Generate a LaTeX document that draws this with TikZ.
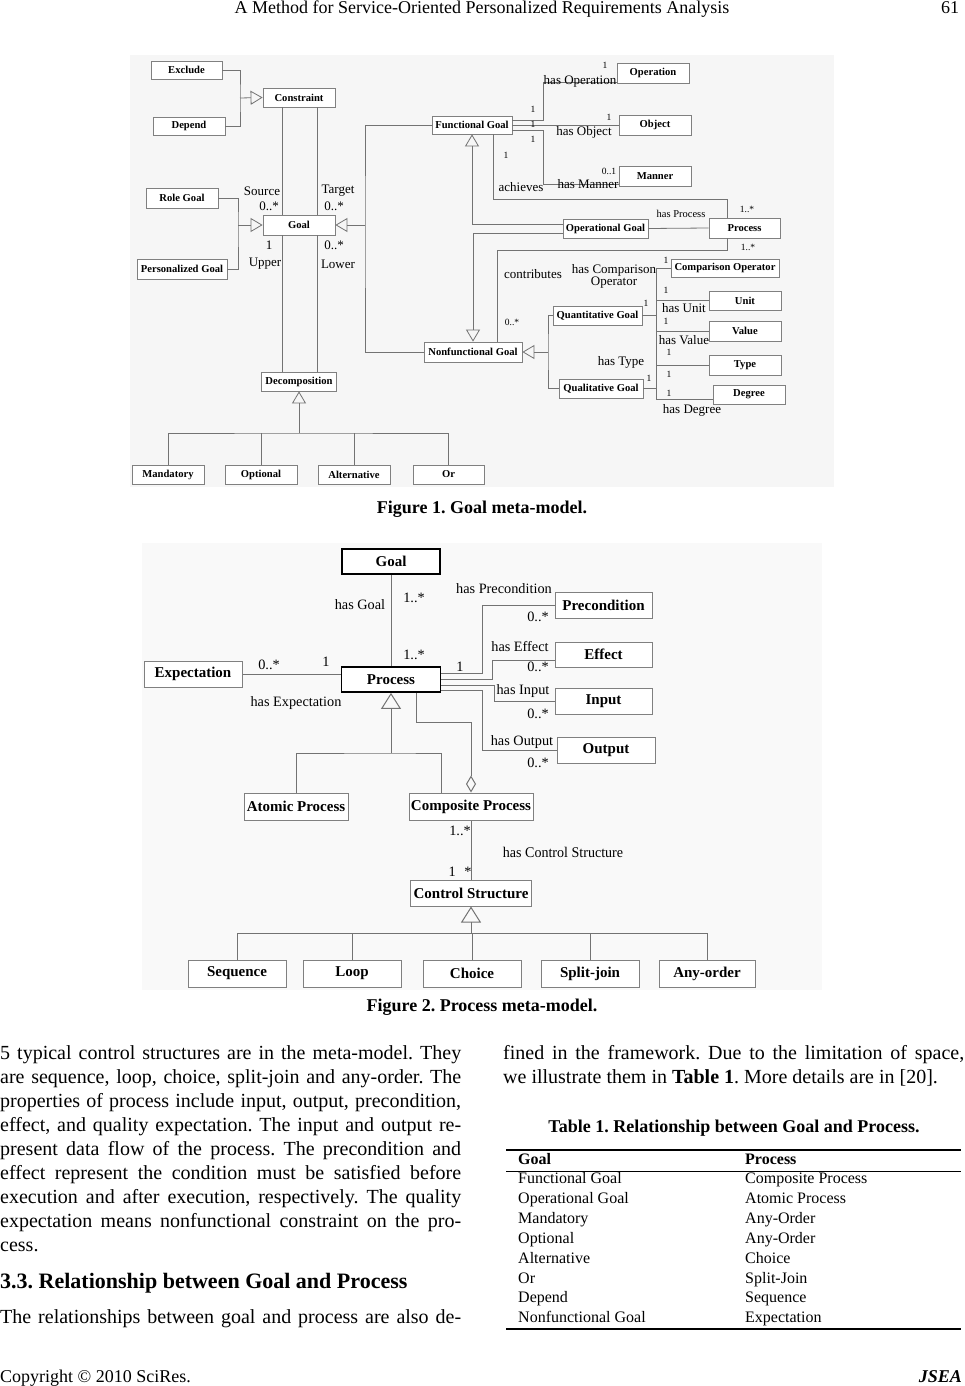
\documentclass[tikz,border=0pt]{standalone}
\usepackage{fontspec}
\usepackage{graphicx}
\setmainfont{Liberation Serif}
\usetikzlibrary{arrows.meta,calc}
\definecolor{lnc}{gray}{0.45}
\definecolor{bxc}{gray}{0.5}
\definecolor{bgA}{gray}{0.965}
\definecolor{bgB}{gray}{0.975}
\newcommand\fbx{\fontsize{10.6}{12}\selectfont\bfseries}
\newcommand\flb{\fontsize{13}{14}\selectfont}
\newcommand\fsm{\fontsize{9.5}{10}\selectfont}
\newcommand\fbxb{\fontsize{15}{17}\selectfont\bfseries}
\newcommand\flbb{\fontsize{14.3}{15}\selectfont}
\newcommand\fbody{\fontsize{20}{24}\selectfont}
\newcommand\ftab{\fontsize{16}{18}\selectfont}
\frenchspacing
\begin{document}
\frenchspacing
\begin{tikzpicture}[x=1pt,y=-1pt,
  bA/.style={draw=bxc, fill=white, font=\fbx, inner sep=0pt, line width=0.8pt},
  bB/.style={draw=bxc, fill=white, font=\fbxb, inner sep=0pt, line width=1pt},
  bT/.style={bB, draw=black, line width=1.8pt},
  ln/.style={draw=lnc, line width=0.8pt},
  gen/.style={ln, -{Triangle[open, length=12pt, width=14pt]}},
  genB/.style={ln, line width=1pt, -{Triangle[open, length=16pt, width=20pt]}},
  agg/.style={ln, line width=1pt, -{Diamond[open, length=17pt, width=10pt]}},
  lb/.style={font=\flb, inner sep=0pt},
  sm/.style={font=\fsm, inner sep=0pt},
  lbB/.style={font=\flbb, inner sep=0pt},
  txt/.style={font=\fbody, inner sep=0pt, anchor=base west}
]
\useasboundingbox (0,0) rectangle (964,1386);
\fill[white] (0,0) rectangle (964,1386);

% header / footer
\node[anchor=base, inner sep=0pt] (hdr) at (482,14) {\fontsize{18}{19}\selectfont A Method for Service-Oriented Personalized Requirements Analysis};
\node[anchor=base, inner sep=0pt] (pg) at (950,14) {\fontsize{18}{19}\selectfont 61};
\node[anchor=base west, inner sep=0pt] (copy) at (0,1382) {\fontsize{18}{19}\selectfont Copyright © 2010 SciRes.};
\node[anchor=base east, inner sep=0pt] (jsea) at (962,1382) {\fontsize{18}{19}\selectfont\bfseries\itshape JSEA};

%================ FIGURE 1 ================
\fill[bgA] (130,55) rectangle (834,487);
\node[bA, minimum width=71pt, minimum height=18pt] (exclude) at (186.5,70) {Exclude};
\node[bA, minimum width=72pt, minimum height=18pt] (depend) at (189,126) {Depend};
\node[bA, minimum width=72pt, minimum height=19pt] (constraint) at (299,97.5) {Constraint};
\node[bA, minimum width=72pt, minimum height=20pt] (rolegoal) at (182,198) {Role Goal};
\node[bA, minimum width=90pt, minimum height=20pt] (persgoal) at (182,269) {Personalized Goal};
\node[bA, minimum width=72pt, minimum height=20pt] (goal) at (299,225) {Goal};
\node[bA, minimum width=75pt, minimum height=19pt] (decomp) at (299,381.5) {Decomposition};
\node[bA, minimum width=72pt, minimum height=19pt] (mandatory) at (168,474.5) {Mandatory};
\node[bA, minimum width=72pt, minimum height=19pt] (optional) at (261,474.5) {Optional};
\node[bA, minimum width=72pt, minimum height=19pt] (alternative) at (354,474.5) {Alternative};
\node[bA, minimum width=71pt, minimum height=19pt] (orb) at (448.5,474.5) {Or};
\node[bA, minimum width=80pt, minimum height=18pt] (fgoal) at (472,125) {Functional Goal};
\node[bA, minimum width=72pt, minimum height=20pt] (operation) at (653,73) {Operation};
\node[bA, minimum width=72pt, minimum height=20pt] (object) at (655,125) {Object};
\node[bA, minimum width=72pt, minimum height=20pt] (manner) at (655,176) {Manner};
\node[bA, minimum width=85pt, minimum height=19pt] (opgoal) at (605.5,228.5) {Operational Goal};
\node[bA, minimum width=71pt, minimum height=20pt] (process1) at (744.5,228) {Process};
\node[bA, minimum width=108pt, minimum height=18pt] (compop) at (725,268) {Comparison Operator};
\node[bA, minimum width=72pt, minimum height=19pt] (unit) at (745,300.5) {Unit};
\node[bA, minimum width=72pt, minimum height=20pt] (value) at (745,331) {Value};
\node[bA, minimum width=72pt, minimum height=20pt] (type) at (745,365) {Type};
\node[bA, minimum width=72pt, minimum height=19pt] (degree) at (749,394.5) {Degree};
\node[bA, minimum width=89pt, minimum height=19pt] (quantgoal) at (597.5,315.5) {Quantitative Goal};
\node[bA, minimum width=84pt, minimum height=19pt] (qualgoal) at (601,388.5) {Qualitative Goal};
\node[bA, minimum width=98pt, minimum height=20pt] (nfgoal) at (473,352) {Nonfunctional Goal};

\coordinate (j1) at (240,98);
\draw[ln] (exclude.east) -| (j1) |- (depend.east);
\draw[gen] (j1) -- (constraint.west);
\draw[ln] ([xshift=-17pt]constraint.south) -- ([xshift=-17pt]goal.north);
\draw[ln] ([xshift=18pt]constraint.south) -- ([xshift=18pt]goal.north);
\draw[ln] ([xshift=-17pt]goal.south) -- ([xshift=-17pt]decomp.north);
\draw[ln] ([xshift=18pt]goal.south) -- ([xshift=18pt]decomp.north);
\coordinate (j2) at (238,225);
\draw[ln] (rolegoal.east) -| (j2) |- (persgoal.east);
\draw[gen] (j2) -- (goal.west);
\coordinate (j3) at (365,225);
\draw[ln] (fgoal.west) -| (j3) |- (nfgoal.west);
\draw[gen] (j3) -- (goal.east);
\coordinate (dj) at (299,433);
\draw[gen] (dj) -- (decomp.south);
\draw[ln] (mandatory.north) |- (dj) -| (orb.north);
\draw[ln] (optional.north) -- (optional.north |- dj);
\draw[ln] (alternative.north) -- (alternative.north |- dj);

\node[lb] (lsrc) at (262,191) {Source};
\node[lb] (lsrcm) at (269,206) {0..*};
\node[lb] (ltgt) at (338,191) {Target};
\node[lb] (ltgtm) at (334,206) {0..*};
\node[lb] (lupm) at (269,245) {1};
\node[lb] (lup) at (265,264) {Upper};
\node[lb] (llowm) at (334,245) {0..*};
\node[lb] (llow) at (338,264) {Lower};

% functional goal links
\draw[ln] ([yshift=5pt]fgoal.east) -- ++(31,0) |- ([yshift=-9pt]operation.west);
\draw[ln] (fgoal.east) -- (object.west);
\draw[ln] ([yshift=-5pt]fgoal.east) -- ++(31,0) |- ([yshift=-8pt]manner.west);
\node[lb] (lop) at (580,81) {has Operation};
\node[sm] (m1) at (605,65) {1};
\node[sm] (m2) at (533,109) {1};
\node[sm] (m3) at (533,124) {1};
\node[sm] (m4) at (533,139) {1};
\node[sm] (m5) at (506,155) {1};
\node[sm] (m6) at (609,117) {1};
\node[lb] (lobj) at (584,132) {has Object};
\node[sm] (m7) at (609,171) {0..1};
\node[lb] (lman) at (588,184) {has Manner};
\coordinate (a1) at (727,199);
\draw[ln] ([xshift=21pt]fgoal.south) |- (a1) -- (a1 |- process1.north);
\node[lb] (lach) at (521,187) {achieves};
\node[sm] (m8) at (747,209) {1..*};
\draw[gen] ([yshift=4.5pt]opgoal.west) -| (fgoal.south);
\draw[ln] (opgoal.east) -- (process1.west);
\node[font=\fontsize{10.5}{11}\selectfont, inner sep=0pt] (lhp) at (681,214) {has Process};
\draw[gen] ([yshift=-5pt]opgoal.west) -| (nfgoal.north);
\coordinate (c1) at (727,250);
\draw[ln] (process1.south -| c1) -- (c1) -| ([xshift=24pt]nfgoal.north);
\node[sm] (m9) at (748,247) {1..*};
\node[lb] (lcon) at (533,274) {contributes};
\node[sm] (m10) at (512,322) {0..*};

\coordinate (q1) at (548,352);
\draw[gen] (q1) -- (nfgoal.east);
\draw[ln] (quantgoal.west) -| (q1) |- (qualgoal.west);
\coordinate (v1) at (656,268);
\coordinate (v2) at (656,399);
\draw[ln] (compop.west) -- (compop.west -| v1) -- (v2) -- (v2 -| degree.west);
\draw[ln] (quantgoal.east) -- (quantgoal.east -| v1);
\draw[ln] (qualgoal.east) -- (qualgoal.east -| v1);
\draw[ln] (unit.west) -- (unit.west -| v1);
\draw[ln] (value.west) -- (value.west -| v1);
\draw[ln] (type.west) -- (type.west -| v1);
\node[lb, align=center] (lcmp) at (614,276) {has Comparison\\[-2pt]Operator};
\node[sm] (m11) at (666,260) {1};
\node[sm] (m12) at (666,290) {1};
\node[lb] (lunit) at (684,308) {has Unit};
\node[sm] (m13) at (666,321) {1};
\node[lb] (lval) at (684,340) {has Value};
\node[sm] (m14) at (669,352) {1};
\node[lb] (ltype) at (621,362) {has Type};
\node[sm] (m15) at (669,374) {1};
\node[sm] (m16) at (669,393) {1};
\node[lb] (ldeg) at (692,410) {has Degree};
\node[sm] (m17) at (646,303) {1};
\node[sm] (m18) at (649,378) {1};

\node[inner sep=0pt, font=\fontsize{18}{20}\selectfont\bfseries] (cap1) at (482,509) {Figure 1. Goal meta-model.};

%================ FIGURE 2 ================
\fill[bgB] (142,543) rectangle (822,990);
\node[bT, minimum width=98pt, minimum height=25pt] (goal2) at (391,561.5) {Goal};
\node[bT, minimum width=99pt, minimum height=25pt] (process2) at (391,679.5) {Process};
\node[bB, minimum width=98pt, minimum height=26pt] (expect) at (193,674) {Expectation};
\node[bB, minimum width=97pt, minimum height=26pt] (precond) at (603.5,605) {Precondition};
\node[bB, minimum width=97pt, minimum height=25pt] (effect) at (603.5,654.5) {Effect};
\node[bB, minimum width=97pt, minimum height=26pt] (input) at (603.5,701) {Input};
\node[bB, minimum width=98pt, minimum height=26pt] (output) at (606,750) {Output};
\node[bB, minimum width=104pt, minimum height=27pt] (atomic) at (296,806.5) {Atomic Process};
\node[bB, minimum width=124pt, minimum height=27pt] (composite) at (471,806.5) {Composite Process};
\node[bB, minimum width=121pt, minimum height=26pt] (control) at (471,893) {Control Structure};
\node[bB, minimum width=98pt, minimum height=27pt] (seq) at (237,973.5) {Sequence};
\node[bB, minimum width=98pt, minimum height=27pt] (loop) at (352,973.5) {Loop};
\node[bB, minimum width=98pt, minimum height=27pt] (choice) at (472,973.5) {Choice};
\node[bB, minimum width=98pt, minimum height=27pt] (split) at (590,973.5) {Split-join};
\node[bB, minimum width=96pt, minimum height=27pt] (any) at (707,973.5) {Any-order};

\draw[ln, line width=1pt] (goal2.south) -- (process2.north);
\draw[ln, line width=1pt] (expect.east) -- (expect.east -| process2.west);
\draw[ln, line width=1pt] ([yshift=6.5pt]process2.east) -| ([xshift=-72pt]precond.west) -- (precond.west);
\draw[ln, line width=1pt] (process2.east) -| ([xshift=-62pt,yshift=-5.5pt]effect.west) -- ([yshift=-5.5pt]effect.west);
\draw[ln, line width=1pt] ([yshift=-6pt]process2.east) -| ([xshift=-60pt]input.west) -- (input.west);
\draw[ln, line width=1pt] ([yshift=-11pt]process2.east) -| ([xshift=-74pt]output.west) -- (output.west);
\coordinate (g2) at (391,753);
\draw[genB] (g2) -- (process2.south);
\draw[ln, line width=1pt] (atomic.north) |- (g2) -| ([xshift=-30pt]composite.north);
\coordinate (ag) at (471,722);
\draw[agg] ([xshift=25pt]process2.south) |- (ag) -- (composite.north);
\draw[ln, line width=1pt] (composite.south) -- (control.north);
\coordinate (cj) at (471,933);
\draw[genB] (cj) -- (control.south);
\draw[ln, line width=1pt] (seq.north) |- (cj) -| (any.north);
\draw[ln, line width=1pt] (loop.north) -- (loop.north |- cj);
\draw[ln, line width=1pt] (choice.north) -- (choice.north |- cj);
\draw[ln, line width=1pt] (split.north) -- (split.north |- cj);

\node[lbB] (l2a) at (360,605) {has Goal};
\node[lbB] (l2b) at (414,598) {1..*};
\node[lbB] (l2c) at (414,655) {1..*};
\node[lbB] (l2d) at (269,665) {0..*};
\node[lbB] (l2e) at (326,662) {1};
\node[lbB] (l2f) at (296,703) {has Expectation};
\node[lbB] (l2g) at (460,667) {1};
\node[lbB] (l2h) at (504,589) {has Precondition};
\node[lbB] (l2i) at (538,617) {0..*};
\node[lbB] (l2j) at (520,647) {has Effect};
\node[lbB] (l2k) at (538,667) {0..*};
\node[lbB] (l2l) at (523,691) {has Input};
\node[lbB] (l2m) at (538,714) {0..*};
\node[lbB] (l2n) at (522,742) {has Output};
\node[lbB] (l2o) at (538,763) {0..*};
\node[lbB] (l2p) at (460,831) {1..*};
\node[inner sep=0pt] (l2q) at (563,852) {\scalebox{0.95}[1]{\fontsize{14.8}{15}\selectfont has Control Structure}};
\node[lbB] (l2r) at (460,872) {1\hspace{0.6em}*};

\node[inner sep=0pt, font=\fontsize{18}{20}\selectfont\bfseries] (cap2) at (482,1007) {Figure 2. Process meta-model.};

%================ BODY TEXT ================
\node[txt] (t1) at (0,1059) {\hbox to 461pt{5 typical control structures are in the meta-model. They}};
\node[txt] (t2) at (0,1083) {\hbox to 461pt{are sequence, loop, choice, split-join and any-order. The}};
\node[txt] (t3) at (0,1107) {\hbox to 461pt{properties of process include input, output, precondition,}};
\node[txt] (t4) at (0,1131) {\hbox to 461pt{effect, and quality expectation. The input and output re-}};
\node[txt] (t5) at (0,1155) {\hbox to 461pt{present data flow of the process. The precondition and}};
\node[txt] (t6) at (0,1179) {\hbox to 461pt{effect represent the condition must be satisfied before}};
\node[txt] (t7) at (0,1203) {\hbox to 461pt{execution and after execution, respectively. The quality}};
\node[txt] (t8) at (0,1227) {\hbox to 461pt{expectation means nonfunctional constraint on the pro-}};
\node[txt] (t9) at (0,1251) {cess.};
\node[anchor=base west, inner sep=0pt, font=\fontsize{22}{24}\selectfont\bfseries] (sec) at (0,1288) {3.3. Relationship between Goal and Process};
\node[txt] (t10) at (0,1323) {\hbox to 461pt{The relationships between goal and process are also de-}};

\node[txt] (r1) at (503,1059) {\hbox to 461pt{fined in the framework. Due to the limitation of space,}};
\node[txt] (r2) at (503,1083) {we illustrate them in \textbf{Table 1}. More details are in [20].};
\node[inner sep=0pt, anchor=base, font=\fontsize{18}{20}\selectfont\bfseries] (tcap) at (734,1132) {Table 1. Relationship between Goal and Process.};

\draw[line width=1.2pt] (506,1150) -- (961,1150);
\draw[line width=0.9pt] (506,1171) -- (961,1171);
\draw[line width=1.2pt] (506,1329) -- (961,1329);
\node[anchor=base west, inner sep=0pt, font=\ftab\bfseries] (hg) at (518,1164) {Goal};
\node[anchor=base west, inner sep=0pt, font=\ftab\bfseries] (hp) at (745,1164) {Process};
\foreach \a/\b [count=\i] in {Functional Goal/Composite Process, Operational Goal/Atomic Process, Mandatory/Any-Order, Optional/Any-Order, Alternative/Choice, Or/Split-Join, Depend/Sequence, Nonfunctional Goal/Expectation}{
  \node[anchor=base west, inner sep=0pt, font=\ftab] (ga\i) at (518,{1164+19.85*\i}) {\a};
  \node[anchor=base west, inner sep=0pt, font=\ftab] (pa\i) at (745,{1164+19.85*\i}) {\b};
}
\end{tikzpicture}
\end{document}
